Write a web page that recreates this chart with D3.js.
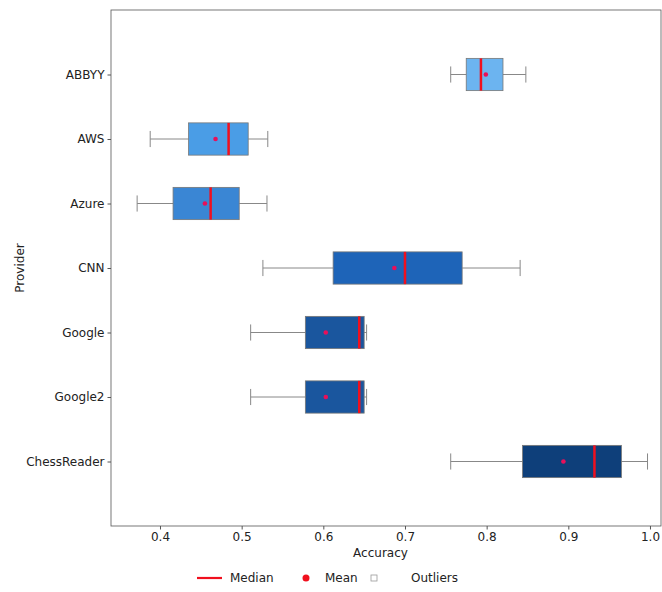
<!DOCTYPE html>
<html>
<head>
<meta charset="utf-8">
<script src="https://cdn.jsdelivr.net/npm/d3@7"></script>
<style>
  body { margin: 0; background: #fff; }
  svg text { font-family: 'DejaVu Sans', sans-serif; }
</style>
</head>
<body>
<svg id="svg-container" width="662" height="592"></svg>
<script>
// data
const providers = ['ABBYY', 'AWS', 'Azure', 'CNN', 'Google', 'Google2', 'ChessReader']
const whiskerLow = [0.756, 0.388, 0.372, 0.526, 0.511, 0.511, 0.756]
const q1 = [0.775, 0.435, 0.416, 0.612, 0.578, 0.578, 0.844]
const medians = [0.793, 0.484, 0.462, 0.700, 0.644, 0.644, 0.932]
const means = [0.799, 0.468, 0.455, 0.687, 0.603, 0.603, 0.894]
const q3 = [0.820, 0.508, 0.497, 0.770, 0.650, 0.650, 0.965]
const whiskerHigh = [0.848, 0.532, 0.531, 0.841, 0.653, 0.653, 0.997]
const boxColors = ['#6cb4f0', '#4a9de6', '#3a86d4', '#1e64b8', '#1a569e', '#1a569e', '#0e3f7a']
const xTicks = [0.4, 0.5, 0.6, 0.7, 0.8, 0.9, 1.0]

const svg = d3.select('#svg-container')
const margin = { left: 111, top: 10, right: 1, bottom: 66 }
const width = 662 - margin.left - margin.right
const height = 592 - margin.top - margin.bottom

const x = d3.scaleLinear().domain([0.34, 1.0135]).range([margin.left, margin.left + width])
// positions 1..7 inside a 0..8 range, like matplotlib's padded ylim
const y = d3.scaleLinear().domain([0, 8]).range([margin.top, margin.top + height])
const boxH = y(0.5) - y(0)
const capH = y(0.25) - y(0)

const rows = providers.map((p, i) => ({
  name: p,
  pos: i + 1,
  lo: whiskerLow[i],
  q1: q1[i],
  med: medians[i],
  mean: means[i],
  q3: q3[i],
  hi: whiskerHigh[i],
  color: boxColors[i],
}))

// frame
svg
  .append('rect')
  .attr('x', margin.left)
  .attr('y', margin.top)
  .attr('width', width)
  .attr('height', height)
  .attr('fill', 'none')
  .attr('stroke', '#555')
  .attr('stroke-width', 0.8)

// axes
const xAxis = svg
  .append('g')
  .attr('transform', `translate(0,${margin.top + height})`)
  .call(d3.axisBottom(x).tickValues(xTicks).tickFormat(d3.format('.1f')).tickSize(3.5))
xAxis.select('.domain').remove()
xAxis.selectAll('line').attr('stroke', '#555')
xAxis.selectAll('text').attr('font-size', 12).attr('fill', '#222')

const yAxis = svg
  .append('g')
  .attr('transform', `translate(${margin.left},0)`)
  .call(
    d3
      .axisLeft(y)
      .tickValues(rows.map(d => d.pos))
      .tickFormat((d, i) => providers[i])
      .tickSize(3.5)
  )
yAxis.select('.domain').remove()
yAxis.selectAll('line').attr('stroke', '#555')
yAxis.selectAll('text').attr('font-size', 12).attr('fill', '#222')

svg
  .append('text')
  .attr('x', x(0.67))
  .attr('y', 557)
  .attr('text-anchor', 'middle')
  .attr('font-size', 12)
  .attr('fill', '#222')
  .text('Accuracy')

svg
  .append('text')
  .attr('transform', `translate(24,${y(4)}) rotate(-90)`)
  .attr('text-anchor', 'middle')
  .attr('font-size', 12)
  .attr('fill', '#222')
  .text('Provider')

// boxes
const g = svg.append('g')
const box = g
  .selectAll('g.box')
  .data(rows)
  .join('g')
  .attr('class', 'box')

box
  .append('line')
  .attr('x1', d => x(d.lo))
  .attr('x2', d => x(d.q1))
  .attr('y1', d => y(d.pos))
  .attr('y2', d => y(d.pos))
  .attr('stroke', '#888')
  .attr('stroke-width', 1)
box
  .append('line')
  .attr('x1', d => x(d.q3))
  .attr('x2', d => x(d.hi))
  .attr('y1', d => y(d.pos))
  .attr('y2', d => y(d.pos))
  .attr('stroke', '#888')
  .attr('stroke-width', 1)
box
  .selectAll('line.cap')
  .data(d => [d.lo, d.hi].map(v => ({ v, pos: d.pos })))
  .join('line')
  .attr('class', 'cap')
  .attr('x1', c => x(c.v))
  .attr('x2', c => x(c.v))
  .attr('y1', c => y(c.pos) - capH / 2)
  .attr('y2', c => y(c.pos) + capH / 2)
  .attr('stroke', '#888')
  .attr('stroke-width', 1)

box
  .append('rect')
  .attr('x', d => x(d.q1))
  .attr('y', d => y(d.pos) - boxH / 2)
  .attr('width', d => x(d.q3) - x(d.q1))
  .attr('height', boxH)
  .attr('fill', d => d.color)
  .attr('stroke', '#777')
  .attr('stroke-width', 0.8)

box
  .append('line')
  .attr('x1', d => x(d.med))
  .attr('x2', d => x(d.med))
  .attr('y1', d => y(d.pos) - boxH / 2)
  .attr('y2', d => y(d.pos) + boxH / 2)
  .attr('stroke', '#f0101e')
  .attr('stroke-width', 2.5)

box
  .append('circle')
  .attr('cx', d => x(d.mean))
  .attr('cy', d => y(d.pos))
  .attr('r', 2.3)
  .attr('fill', '#e8105a')

// legend
const lg = svg.append('g').attr('transform', 'translate(0,578)')
lg.append('line')
  .attr('x1', 197)
  .attr('x2', 222)
  .attr('stroke', '#f0101e')
  .attr('stroke-width', 2.2)
lg.append('text').attr('x', 230).attr('dy', '0.35em').attr('font-size', 12).attr('fill', '#222').text('Median')
lg.append('circle').attr('cx', 306).attr('r', 3.5).attr('fill', '#f0101e')
lg.append('text').attr('x', 325).attr('dy', '0.35em').attr('font-size', 12).attr('fill', '#222').text('Mean')
lg.append('rect')
  .attr('x', 371)
  .attr('y', -3)
  .attr('width', 6)
  .attr('height', 6)
  .attr('fill', 'none')
  .attr('stroke', '#999')
  .attr('stroke-width', 0.8)
lg.append('text').attr('x', 411).attr('dy', '0.35em').attr('font-size', 12).attr('fill', '#222').text('Outliers')
</script>
</body>
</html>
